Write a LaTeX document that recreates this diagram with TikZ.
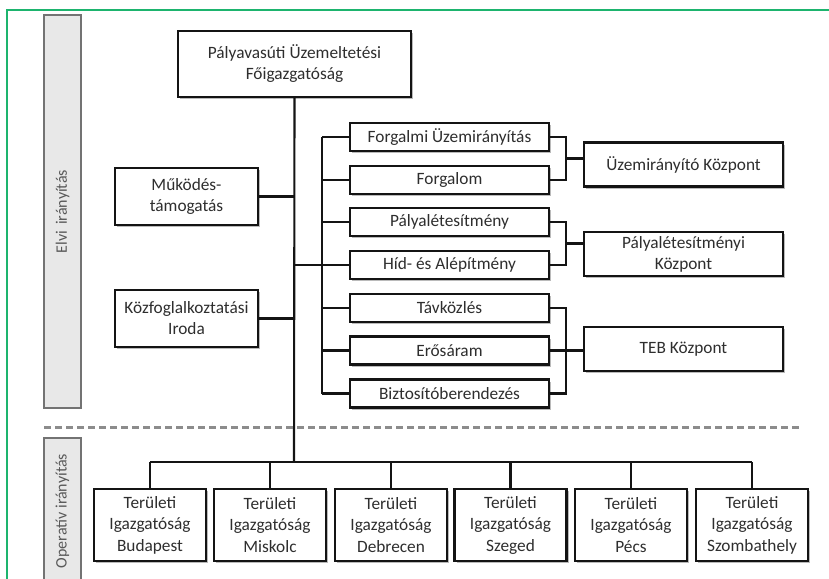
\documentclass[tikz,border=0pt]{standalone}
\usepackage{fontspec}
\setmainfont{Carlito}
\usetikzlibrary{shadows,calc}
\definecolor{framegreen}{HTML}{1DB46E}
\definecolor{txt}{HTML}{2E2E2E}
\begin{document}
\begin{tikzpicture}[x=1pt,y=-1pt,
  unit/.style={draw=black!92, line width=2.2pt, fill=white, text=txt, align=center,
    inner sep=0pt, font=\fontsize{17.3}{21}\selectfont,
    drop shadow={shadow xshift=2pt, shadow yshift=-2.2pt, fill=black!45, opacity=0.6}},
  dept/.style={unit, minimum width=199pt, minimum height=28pt},
  centre/.style={unit, minimum width=199pt, minimum height=44pt},
  staff/.style={unit, minimum width=143pt, minimum height=57pt},
  region/.style={unit, minimum width=112pt, minimum height=72pt, font=\fontsize{17.3}{21.5}\selectfont},
  wire/.style={draw=black!92, line width=2.1pt},
  sidebar/.style={draw=black!55, fill=black!9, line width=1.3pt},
  sidelabel/.style={rotate=90, text=black!65, font=\fontsize{16}{19}\selectfont, inner sep=0pt}
]
\useasboundingbox (0,0) rectangle (829,578);
\fill[white] (0,0) rectangle (829,578);

% outer frame lines
\draw[framegreen, line width=2pt] (7,580) -- (7,10) -- (829,10);

% side bars with their captions
\draw[sidebar] (44,15) rectangle (81,408);
\node[sidelabel] (elvi) at (62.5,211.5) {Elvi\hspace{6pt}irányítás};
\draw[sidebar] (44,438) rectangle (81,600);
\node[sidelabel] (oper) at (62.5,511) {Operatív irányítás};

% separator between the two levels
\draw[black!45, line width=3pt, dash pattern=on 7pt off 4pt] (44,427) -- (802,427);

% head office
\node[unit, minimum width=233pt, minimum height=66pt] (top) at (294.5,64)
  {Pályavasúti Üzemeltetési\\Főigazgatóság};

% staff units
\node[staff] (muk) at (186.5,196.5) {Működés-\\támogatás};
\node[staff] (koz) at (186.5,318.5) {Közfoglalkoztatási\\Iroda};

% departments
\node[dept] (f1) at (449.5,137) {Forgalmi Üzemirányítás};
\node[dept] (f2) at (449.5,180) {Forgalom};
\node[dept] (p1) at (449.5,222) {Pályalétesítmény};
\node[dept] (p2) at (449.5,265) {Híd- és Alépítmény};
\node[dept] (t1) at (449.5,308) {Távközlés};
\node[dept] (t2) at (449.5,350.5) {Erősáram};
\node[dept] (t3) at (449.5,393.5) {Biztosítóberendezés};

% centres
\node[centre] (k1) at (683.5,164.5) {Üzemirányító Központ};
\node[centre] (k2) at (683.5,254) {Pályalétesítményi\\Központ};
\node[centre] (k3) at (683.5,349) {TEB Központ};

% regional directorates
\node[region] (r1) at (150,525) {Területi\\Igazgatóság\\Budapest};
\node[region] (r2) at (270,525) {Területi\\Igazgatóság\\Miskolc};
\node[region] (r3) at (391,525) {Területi\\Igazgatóság\\Debrecen};
\node[region] (r4) at (510.5,525) {Területi\\Igazgatóság\\Szeged};
\node[region] (r5) at (631,525) {Területi\\Igazgatóság\\Pécs};
\node[region] (r6) at (752,525) {Területi\\Igazgatóság\\Szombathely};

% helper coordinates for the buses
\coordinate (gx) at (322,0);
\coordinate (bx) at (566,0);
\coordinate (bus) at (294,462);

% main trunk and staff links
\draw[wire] (top.south) -- (bus);
\draw[wire] (muk.east) -- (muk.east -| top.south);
\draw[wire] (koz.east) -- (koz.east -| top.south);
\draw[wire] (p2.west -| top.south) -- (p2.west);

% department bus
\draw[wire] (f1.west -| gx) -- (t3.west -| gx);
\foreach \d in {f1,f2,p1,t1,t2,t3}
  \draw[wire] (\d.west -| gx) -- (\d.west);

% brackets towards the centres
\draw[wire] (f1.east) -- (f1.east -| bx) -- (f2.east -| bx) -- (f2.east);
\coordinate (m1) at ($(f1.east -| bx)!0.5!(f2.east -| bx)$);
\draw[wire] (m1) -- (m1 -| k1.west);
\draw[wire] (p1.east) -- (p1.east -| bx) -- (p2.east -| bx) -- (p2.east);
\coordinate (m2) at ($(p1.east -| bx)!0.5!(p2.east -| bx)$);
\draw[wire] (m2) -- (m2 -| k2.west);
\draw[wire] (t1.east) -- (t1.east -| bx) -- (t3.east -| bx) -- (t3.east);
\draw[wire] (t2.east) -- (t2.east -| k3.west);

% regional bus
\draw[wire] (bus -| r1.north) -- (bus -| r6.north);
\foreach \r in {r1,r2,r3,r4,r5,r6}
  \draw[wire] (bus -| \r.north) -- (\r.north);
\end{tikzpicture}
\end{document}
